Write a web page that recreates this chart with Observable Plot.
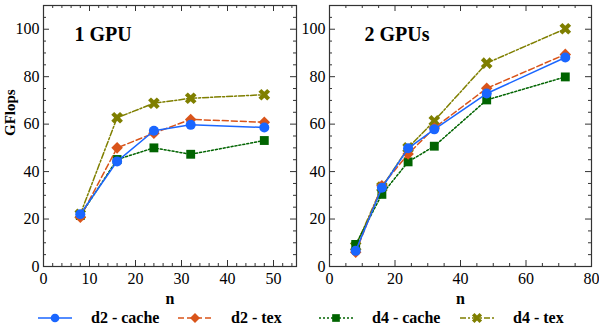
<!DOCTYPE html>
<html><head><meta charset="utf-8">
<script src="https://cdn.jsdelivr.net/npm/d3@7"></script>
<script src="https://cdn.jsdelivr.net/npm/@observablehq/plot@0.6"></script>
<style>
body{margin:0;background:#fff;font-family:"Liberation Serif","Times New Roman",Times,"DejaVu Serif",serif;}
#wrap{position:relative;width:599px;height:334px;overflow:hidden;}
#row{display:flex;}
#legend{position:absolute;top:305px;left:0;width:599px;height:26px;}
.item{position:absolute;top:0;height:26px;display:flex;align-items:center;font-weight:bold;font-size:16px;color:#000;}
.item svg{margin-right:19px;}
svg text{font-family:"Liberation Serif","Times New Roman",Times,"DejaVu Serif",serif;}
</style></head>
<body><div id="wrap"><div id="row"></div><div id="legend"></div></div>
<script>
// ---- data ----
const seriesNames = ["d2 - cache", "d2 - tex", "d4 - cache", "d4 - tex"];
const n1 = [8, 16, 24, 32, 48];
const gpu1_d2cache = [22.0, 44.3, 57.2, 59.7, 58.6];
const gpu1_d2tex   = [20.8, 50.0, 56.2, 62.0, 60.8];
const gpu1_d4cache = [21.5, 45.1, 50.0, 47.3, 53.1];
const gpu1_d4tex   = [22.0, 62.7, 68.8, 70.9, 72.4];
const n2 = [8, 16, 24, 32, 48, 72];
const gpu2_d2cache = [6.6, 33.2, 49.8, 57.8, 72.9, 88.1];
const gpu2_d2tex   = [6.0, 34.0, 47.4, 58.4, 75.1, 89.4];
const gpu2_d4cache = [9.3, 30.4, 44.1, 50.7, 70.2, 79.9];
const gpu2_d4tex   = [8.5, 33.5, 50.0, 61.4, 85.7, 100.2];
const yTickLabels = [0, 20, 40, 60, 80, 100];
const x1TickLabels = [0, 10, 20, 30, 40, 50];
const x2TickLabels = [0, 20, 40, 60, 80];

// ---- styles ----
const FONT = "'Liberation Serif', 'Times New Roman', Times, 'DejaVu Serif', serif";
const styles = {
  "d2 - cache": {color: "#1a66ff", dash: null, symbol: "circle", r: 5, rotate: 0},
  "d2 - tex":   {color: "#d9541a", dash: "6,3", symbol: "square", r: 4.6, rotate: 45},
  "d4 - cache": {color: "#006400", dash: "2,2", symbol: "square", r: 5, rotate: 0},
  "d4 - tex":   {color: "#7f7f00", dash: "6,2,2,2", symbol: "cross", r: 5.2, rotate: 45}
};
const drawOrder = ["d4 - tex", "d4 - cache", "d2 - tex", "d2 - cache"];

function table(n, arrays) {
  const rows = [];
  seriesNames.forEach((s, i) => n.forEach((x, j) => rows.push({series: s, n: x, v: arrays[i][j]})));
  return rows;
}
const data1 = table(n1, [gpu1_d2cache, gpu1_d2tex, gpu1_d4cache, gpu1_d4tex]);
const data2 = table(n2, [gpu2_d2cache, gpu2_d2tex, gpu2_d4cache, gpu2_d4tex]);

const H = 305, MT = 5, MB = 39;
const FH = H - MT - MB;

function panel({title, data, xMax, xLabels, xMinorStep, width, marginLeft, marginRight, titleDx, yLabel}) {
  const FW = width - marginLeft - marginRight;
  const xMinor = d3.range(0, xMax + 1e-9, xMinorStep).filter(v => !xLabels.includes(v));
  const yMinor = d3.range(0, 110 + 1e-9, 5).filter(v => !yTickLabels.includes(v));
  const tickStroke = "#333";
  const marks = [
    Plot.tickX(xLabels, {x: d => d, insetTop: FH - 6, stroke: tickStroke}),
    Plot.tickX(xLabels, {x: d => d, insetBottom: FH - 6, stroke: tickStroke}),
    Plot.tickX(xMinor, {x: d => d, insetTop: FH - 3, stroke: tickStroke}),
    Plot.tickX(xMinor, {x: d => d, insetBottom: FH - 3, stroke: tickStroke}),
    Plot.tickY(yTickLabels, {y: d => d, insetRight: FW - 6, stroke: tickStroke}),
    Plot.tickY(yTickLabels, {y: d => d, insetLeft: FW - 6, stroke: tickStroke}),
    Plot.tickY(yMinor, {y: d => d, insetRight: FW - 3, stroke: tickStroke}),
    Plot.tickY(yMinor, {y: d => d, insetLeft: FW - 3, stroke: tickStroke}),
    Plot.axisX({ticks: xLabels, tickSize: 0, tickPadding: 6, label: null, fontSize: 16, fontFamily: FONT}),
    Plot.axisY({ticks: yTickLabels, tickSize: 0, tickPadding: 4, label: null, fontSize: 16, fontFamily: FONT}),
    Plot.frame({stroke: "#333", strokeWidth: 1.2}),
    Plot.text([title], {text: d => d, frameAnchor: "top-left", textAnchor: "start", lineAnchor: "top", dx: titleDx, dy: 21, fontWeight: "bold", fontSize: 20, fontFamily: FONT}),
    Plot.text(["n"], {text: d => d, frameAnchor: "bottom", dy: 37, fontWeight: "bold", fontSize: 16, fontFamily: FONT})
  ];
  if (yLabel) marks.push(Plot.text([yLabel], {text: d => d, frameAnchor: "left", rotate: -90, dx: -33, fontWeight: "bold", fontSize: 15, fontFamily: FONT}));
  for (const s of drawOrder) {
    const st = styles[s];
    const d = data.filter(r => r.series === s);
    marks.push(Plot.line(d, {x: "n", y: "v", stroke: st.color, strokeWidth: 1.5, strokeDasharray: st.dash}));
    marks.push(Plot.dot(d, {x: "n", y: "v", symbol: st.symbol, r: st.r, rotate: st.rotate, fill: st.color, stroke: "none"}));
  }
  return Plot.plot({
    width, height: H, marginTop: MT, marginBottom: MB, marginLeft, marginRight,
    x: {domain: [0, xMax]}, y: {domain: [0, 110]},
    style: {fontFamily: FONT, fontSize: "16px", color: "#000", background: "#fff", overflow: "visible"},
    marks
  });
}

const row = document.getElementById("row");
row.appendChild(panel({title: "1 GPU", data: data1, xMax: 55, xLabels: x1TickLabels, xMinorStep: 2, width: 300, marginLeft: 43, marginRight: 4, titleDx: 31, yLabel: "GFlops"}));
row.appendChild(panel({title: "2 GPUs", data: data2, xMax: 80, xLabels: x2TickLabels, xMinorStep: 5, width: 299, marginLeft: 29, marginRight: 8, titleDx: 35}));

// ---- legend ----
const legendLeft = {"d2 - cache": 38, "d2 - tex": 178, "d4 - cache": 319, "d4 - tex": 460};
const legend = document.getElementById("legend");
for (const s of seriesNames) {
  const st = styles[s];
  const item = document.createElement("div");
  item.className = "item";
  item.style.left = legendLeft[s] + "px";
  const sym = d3.symbol(st.symbol === "circle" ? d3.symbolCircle : st.symbol === "square" ? d3.symbolSquare : d3.symbolCross, Math.PI * st.r * st.r * 0.75)();
  item.innerHTML = `<svg width="34" height="14"><line x1="0" x2="34" y1="7" y2="7" stroke="${st.color}" stroke-width="1.5" ${st.dash ? `stroke-dasharray="${st.dash}"` : ""}/><path d="${sym}" transform="translate(17,7) rotate(${st.rotate})" fill="${st.color}"/></svg><span>${s}</span>`;
  legend.appendChild(item);
}
</script></body></html>
